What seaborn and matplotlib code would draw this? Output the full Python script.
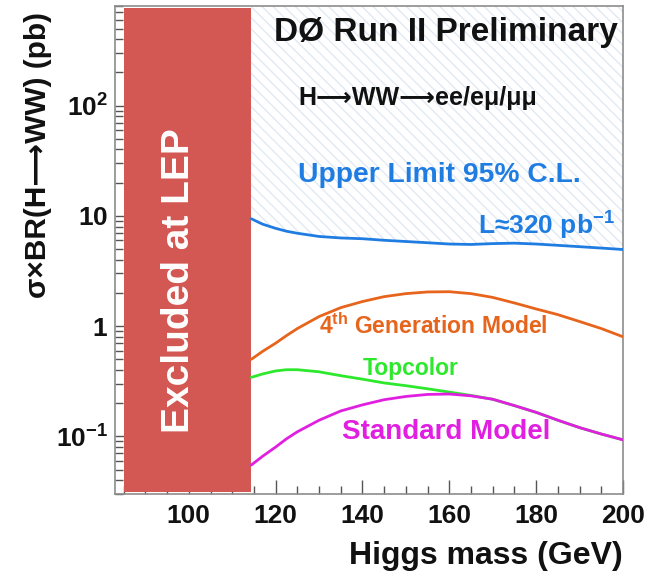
import matplotlib
matplotlib.use("Agg")
import matplotlib.pyplot as plt
import pandas as pd
import seaborn as sns
from matplotlib.ticker import FixedLocator, FixedFormatter, MultipleLocator, LogLocator, NullFormatter

# Higgs mass points (GeV) and cross section x BR(H->WW) curves (pb)
mass = [114.4, 117, 120, 122.5, 125, 130, 135, 140, 145, 150, 155, 160, 165, 170, 175, 180, 185, 190, 195, 200]
upper_limit = [9.4, 8.4, 7.7, 7.25, 6.95, 6.5, 6.3, 6.2, 6.0, 5.85, 5.7, 5.55, 5.5, 5.6, 5.65, 5.55, 5.4, 5.25, 5.1, 4.95]
fourth_gen = [0.50, 0.59, 0.70, 0.82, 0.95, 1.22, 1.47, 1.67, 1.85, 1.97, 2.04, 2.05, 1.97, 1.82, 1.62, 1.43, 1.27, 1.10, 0.95, 0.80]
topcolor = [0.343, 0.368, 0.392, 0.402, 0.402, 0.385, 0.355, 0.33, 0.305, 0.288, 0.27, 0.252, 0.235, 0.217, 0.19, 0.165, 0.14, 0.12, 0.105, 0.093]
standard_model = [0.055, 0.066, 0.080, 0.095, 0.110, 0.14, 0.17, 0.193, 0.215, 0.23, 0.24, 0.242, 0.233, 0.217, 0.19, 0.165, 0.14, 0.12, 0.105, 0.093]

# LEP exclusion band (GeV) and its vertical extent (pb)
lep_low, lep_limit = 85.0, 114.4
lep_band_bottom, lep_band_top = 0.0313, 770.0

y_ticks = [0.1, 1, 10, 100]
y_tick_labels = [r"$\mathbf{10^{-1}}$", r"$\mathbf{1}$", r"$\mathbf{10}$", r"$\mathbf{10^{2}}$"]
x_ticks = [100, 120, 140, 160, 180, 200]

sns.set_style("white")
plt.rcParams["font.family"] = ["Liberation Sans", "DejaVu Sans"]
plt.rcParams["mathtext.fontset"] = "custom"
plt.rcParams["mathtext.rm"] = "Liberation Sans"
plt.rcParams["mathtext.bf"] = "Liberation Sans:bold"
plt.rcParams["mathtext.it"] = "Liberation Sans:italic"
plt.rcParams["hatch.linewidth"] = 1.0

C_BLUE = "#1f7de2"
C_ORANGE = "#e6641c"
C_GREEN = "#2ee82e"
C_MAGENTA = "#e01fe0"
C_RED = "#d35752"

W, H = 648, 575
fig = plt.figure(figsize=(W / 100, H / 100), dpi=100)
ax = fig.add_axes([115 / W, 1 - 494 / H, 508 / W, 488 / H])


def fpos(x, y):
    return x / W, 1 - y / H


df = pd.DataFrame({
    "mass": mass,
    "limit": upper_limit,
    "fourth": fourth_gen,
    "topcolor": topcolor,
    "sm": standard_model,
})

ax.set_yscale("log")
ax.set_xlim(83, 200)
ax.set_ylim(0.03, 800)

# hatched region above the observed limit
ax.fill_between(df["mass"], df["limit"], 800, facecolor="none", edgecolor="#e1e9f5",
                linewidth=0, hatch="\\\\\\", zorder=1)

# LEP exclusion band
ax.fill_between([lep_low, lep_limit], lep_band_bottom, lep_band_top, color=C_RED,
                linewidth=0, zorder=2)

lw = 2.0
sns.lineplot(data=df, x="mass", y="topcolor", color=C_GREEN, linewidth=lw, ax=ax, zorder=3)
sns.lineplot(data=df, x="mass", y="sm", color=C_MAGENTA, linewidth=lw, ax=ax, zorder=4)
sns.lineplot(data=df, x="mass", y="fourth", color=C_ORANGE, linewidth=lw, ax=ax, zorder=4)
sns.lineplot(data=df, x="mass", y="limit", color=C_BLUE, linewidth=lw, ax=ax, zorder=4)
for ln in ax.lines:
    ln.set_solid_joinstyle("round")
    ln.set_solid_capstyle("round")

ax.set_xlabel("")
ax.set_ylabel("")

# axes styling
for side in ["left", "bottom", "right", "top"]:
    ax.spines[side].set_color("#8c8c8c")
    ax.spines[side].set_linewidth(1.2)

ax.xaxis.set_major_locator(FixedLocator(x_ticks))
ax.xaxis.set_minor_locator(MultipleLocator(5))
ax.yaxis.set_major_locator(FixedLocator(y_ticks))
ax.yaxis.set_major_formatter(FixedFormatter(y_tick_labels))
ax.yaxis.set_minor_locator(LogLocator(base=10, subs=range(2, 10)))
ax.yaxis.set_minor_formatter(NullFormatter())
ax.tick_params(axis="both", which="both", direction="in", colors="#555555",
               labelcolor="#111111", left=True, bottom=True, right=False, top=False, width=1.0)
ax.tick_params(axis="x", which="major", length=10, pad=7, labelsize=19)
ax.tick_params(axis="x", which="minor", length=5.5)
ax.tick_params(axis="y", which="major", length=12, pad=5, labelsize=19)
ax.tick_params(axis="y", which="minor", length=6)
for lab in ax.get_xticklabels():
    lab.set_fontweight("bold")

ARROW = "\u27f6"

# axis titles
fig.text(*fpos(38, 155), f"σ×BR(H{ARROW}WW) (pb)", rotation=90, ha="center", va="center",
         fontsize=21.5, fontweight="bold", color="#111111")
fig.text(*fpos(623, 556), "Higgs mass (GeV)", ha="right", va="center",
         fontsize=23, fontweight="bold", color="#111111")

# annotations
fig.text(*fpos(618, 33), "DØ Run II Preliminary", ha="right", va="center",
         fontsize=24, fontweight="bold", color="#111111")
fig.text(*fpos(298, 98), f"H{ARROW}WW{ARROW}ee/eμ/μμ", ha="left", va="center",
         fontsize=18, fontweight="bold", color="#111111")
fig.text(*fpos(298, 175), "Upper Limit 95% C.L.", ha="left", va="center",
         fontsize=20.3, fontweight="bold", color=C_BLUE)
fig.text(*fpos(615, 226), r"L≈320 pb$^{\mathbf{-1}}$", ha="right", va="center",
         fontsize=19, fontweight="bold", color=C_BLUE)
fig.text(*fpos(319, 326), r"4$^{\mathbf{th}}$ Generation Model", ha="left", va="center",
         fontsize=16.5, fontweight="bold", color=C_ORANGE)
fig.text(*fpos(363, 369), "Topcolor", ha="left", va="center",
         fontsize=16.5, fontweight="bold", color=C_GREEN)
fig.text(*fpos(342, 432), "Standard Model", ha="left", va="center",
         fontsize=20, fontweight="bold", color=C_MAGENTA)
fig.text(*fpos(189, 281), "Excluded at LEP", rotation=90, rotation_mode="anchor",
         ha="center", va="baseline", fontsize=28, fontweight="bold", color="white")

fig.savefig("out.png", dpi=100, facecolor="white")
